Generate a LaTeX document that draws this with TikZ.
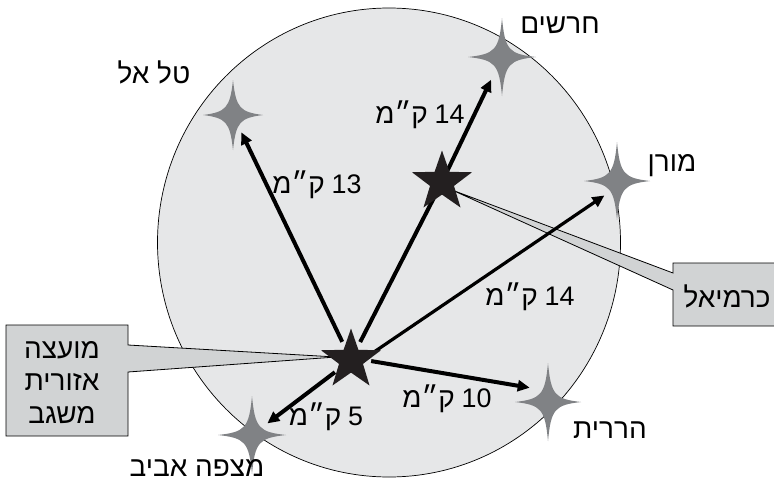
\documentclass[tikz,border=0pt]{standalone}
\usepackage{fontspec}
\setmainfont{Liberation Sans}
\newfontfamily\heb[Script=Hebrew,Scale=1.27]{Liberation Sans}
\newfontfamily\digitfont[Scale=1.22]{Liberation Sans}
\TeXXeTstate=1
\usetikzlibrary{arrows.meta,shapes.geometric,calc}
\definecolor{disc}{HTML}{E6E7E8}
\definecolor{spark}{HTML}{808285}
\definecolor{calloutfill}{HTML}{D1D3D4}
\definecolor{inkblack}{HTML}{231F20}
\newcommand\km[1]{\beginR\beginL{\digitfont #1}\endL\hspace{-1pt} ק״מ\endR}
\tikzset{
  pics/sparkle/.style 2 args={code={
    \fill[spark] (0,-#2) .. controls (3,-7) and (7,-3) .. (#1,0)
      .. controls (7,3) and (3,7) .. (0,#2)
      .. controls (-3,7) and (-7,3) .. (-#1,0)
      .. controls (-7,-3) and (-3,-7) .. cycle;
  }}
}
\begin{document}
\begin{tikzpicture}[x=1pt,y=-1pt,
  hub/.style={circle,minimum size=40pt,inner sep=0pt},
  place/.style={circle,minimum size=#1,inner sep=0pt},
  place/.default=38pt,
  bigstar/.style={star,star points=5,star point ratio=2.5,minimum size=63pt,inner sep=0pt,fill=inkblack},
  lbl/.style={anchor=base,font=\fontsize{22}{26}\selectfont\heb,inner sep=0pt},
  boxtext/.style={anchor=base,align=center,font=\fontsize{22}{32.5}\selectfont\heb,inner sep=0pt},
  road/.style={line width=4pt,draw=black,-{Triangle[length=12pt,width=11pt]}},
  link/.style={line width=4pt,draw=black},
  callbox/.style={draw=black,line width=0.8pt,fill=calloutfill,line join=miter}
]
\useasboundingbox (0,0) rectangle (774,482);
\clip (0,0) rectangle (774,482);

% disc
\draw[fill=disc,line width=0.7pt] (389,242.5) ellipse [x radius=231.5, y radius=234.5];

% places
\node[hub] (misgav) at (351,360) {};
\node[hub] (karmiel) at (442,182) {};
\node[place] (telel) at (233,115) {};
\node[place=50pt] (harashim) at (502,57) {};
\node[place] (moran) at (617,181) {};
\node[place=46pt] (harirt) at (548,402) {};
\node[place] (mitzpe) at (252,435) {};

% callouts
\draw[callbox] (6,325) -- (128,325) -- (128,345) -- ($(misgav)+(-15,-3)$) -- (128,372) -- (128,436) -- (6,436) -- cycle;
\draw[callbox] (673,263) -- (790,263) -- (790,326) -- (673,326) -- (673,290) -- ($(karmiel)+(10,8)$) -- (673,273) -- cycle;

% connectors
\draw[link] (misgav) -- (karmiel.center);
\draw[road] (karmiel.center) -- (harashim);
\draw[road] (misgav) -- (telel);
\draw[road,line width=3.2pt] (misgav.16) -- (moran.229);
\draw[road] (misgav.-3) -- (harirt.142);
\draw[road] (misgav) -- (mitzpe);

% stars
\node[bigstar] (misgavstar) at (misgav) {};
\node[bigstar] (karmielstar) at (karmiel) {};
\pic at (telel) {sparkle={30}{35}};
\pic at (harashim) {sparkle={34}{39}};
\pic at (moran) {sparkle={33}{39}};
\pic at (harirt) {sparkle={33}{39}};
\pic at (mitzpe) {sparkle={34}{39}};

% place names
\node[lbl] (tharashim) at (560,33) {\beginR חרשים\endR};
\node[lbl] (ttelel) at (154,83) {\beginR טל אל\endR};
\node[lbl] (tmoran) at (672,171) {\beginR מורן\endR};
\node[lbl] (tharirt) at (610,438) {\beginR הררית\endR};
\node[lbl] (tmitzpe) at (197,476) {\beginR מצפה אביב\endR};
\node[lbl] (tkarmiel) at (727,307) {\beginR כרמיאל\endR};
\node[boxtext] (tmisgav) at (62,423) {\beginR מועצה\endR\\\beginR אזורית\endR\\\beginR משגב\endR};

% distances
\node[lbl] (d1) at (420,123) {\km{14}};
\node[lbl] (d2) at (317,193) {\km{13}};
\node[lbl] (d3) at (530,305) {\km{14}};
\node[lbl] (d4) at (447,407) {\km{10}};
\node[lbl] (d5) at (326,425) {\km{5}};
\end{tikzpicture}
\end{document}
